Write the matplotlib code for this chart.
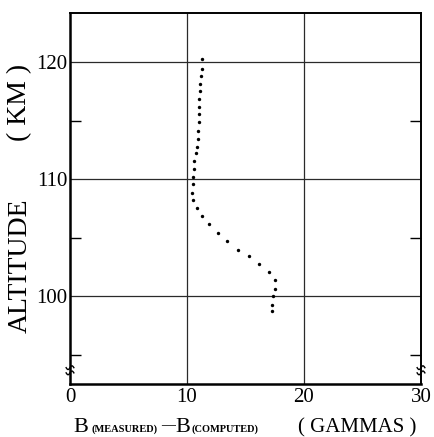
import matplotlib
matplotlib.use("Agg")
import matplotlib.pyplot as plt
import numpy as np

diff_gammas = [11.31, 11.26, 11.20, 11.11, 11.11, 11.03, 11.03, 11.03, 11.00, 10.97,
               10.94, 10.88, 10.77, 10.62, 10.57, 10.49, 10.49, 10.45, 10.54, 10.85,
               11.31, 11.88, 12.62, 13.44, 14.38, 15.30, 16.13, 16.98, 17.55, 17.55,
               17.32, 17.26, 17.26]
altitude_km = [120.28, 119.43, 118.80, 118.15, 117.50, 116.86, 116.18, 115.53, 114.85, 114.13,
               113.42, 112.76, 112.20, 111.56, 110.85, 110.20, 109.57, 108.86, 108.23, 107.50,
               106.84, 106.15, 105.41, 104.70, 103.99, 103.42, 102.79, 102.03, 101.37, 100.60,
               100.00, 99.29, 98.72]
x_ticks = [0, 10, 20, 30]
y_ticks = [100, 110, 120]
y_minor = [95, 105, 115]

plt.rcParams['font.family'] = ['Liberation Serif', 'DejaVu Serif']

W, H = 434, 437
fig = plt.figure(figsize=(W / 100, H / 100), dpi=100)
ax = fig.add_axes([70 / W, 1 - 384 / H, 351 / W, 371 / H])
ax.set_xlim(0, 30)
ax.set_ylim(92.5, 124.2)

for x in [10, 20]:
    ax.axvline(x, color='#2a2a2a', lw=0.9, zorder=1)
for y in y_ticks:
    ax.axhline(y, color='#2a2a2a', lw=0.9, zorder=1)

ax.scatter(diff_gammas, altitude_km, s=6, color='black', zorder=3, linewidths=0)

ax.set_xticks(x_ticks)
ax.set_xticklabels([str(v) for v in x_ticks], fontsize=15)
ax.set_yticks(y_ticks)
ax.set_yticklabels([str(v) for v in y_ticks], fontsize=15)
ax.set_yticks(y_minor, minor=True)
ax.tick_params(axis='x', which='major', length=0, pad=3)
ax.tick_params(axis='y', which='major', length=0, pad=2)
ax.tick_params(axis='y', which='minor', direction='in', length=8, width=1.0,
               left=True, right=True)

ax.spines['left'].set_linewidth(1.8)
ax.spines['bottom'].set_linewidth(1.8)
ax.spines['top'].set_linewidth(1.4)
ax.spines['right'].set_linewidth(1.4)

# axis break marks
for xa in [0.0, 1.0]:
    t = np.linspace(-1, 1, 30)
    for yb in (0.030, 0.044):
        ax.plot(xa + 0.011 * t, yb + 0.005 * np.sin(t * np.pi), transform=ax.transAxes,
                color='black', lw=1.0, clip_on=False)

# y label
fig.text(20 / W, 1 - 266 / H, 'ALTITUDE', fontsize=20, rotation=90,
         ha='center', va='center')
fig.text(20 / W, 1 - 102 / H, '( KM )', fontsize=20, rotation=90,
         ha='center', va='center')

# x label pieces
base = 1 - 432 / H
fig.text(73 / W, base, 'B', fontsize=16, ha='left', va='baseline')
fig.text(91 / W, base, '(MEASURED)', fontsize=7.5, fontweight='bold', ha='left', va='baseline')
fig.text(161 / W, base + 3 / H, '\u2014', fontsize=10, fontweight='bold', ha='left', va='baseline')
fig.text(175 / W, base, 'B', fontsize=16, ha='left', va='baseline')
fig.text(192 / W, base, '(COMPUTED)', fontsize=7.5, fontweight='bold', ha='left', va='baseline')
fig.text(298 / W, base, '( GAMMAS )', fontsize=15, ha='left', va='baseline')

fig.savefig('out.png', dpi=100)
